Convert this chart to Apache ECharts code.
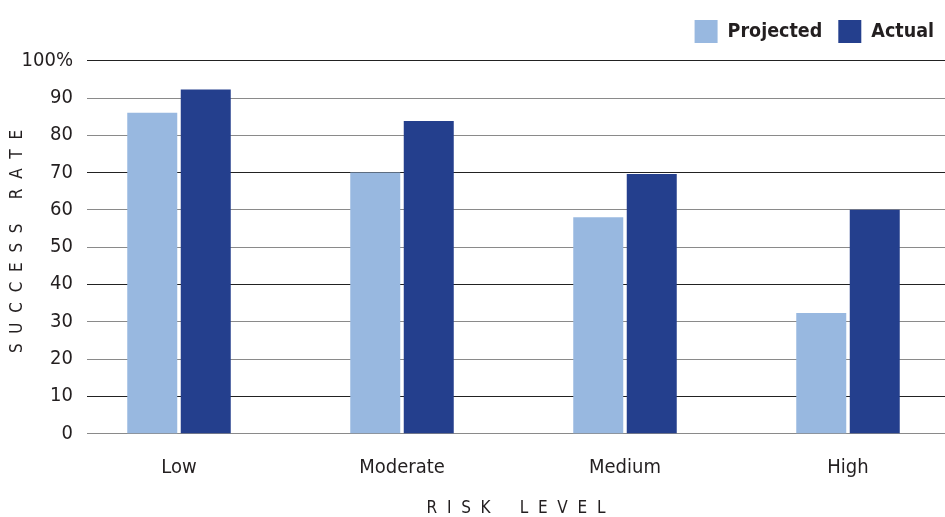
<!DOCTYPE html>
<html>
<head>
<meta charset="utf-8">
<script src="https://cdn.jsdelivr.net/npm/echarts@6/dist/echarts.min.js"></script>
<style>
  html, body { margin: 0; padding: 0; background: #fff; }
  #chart { width: 945px; height: 517px; }
</style>
</head>
<body>
<div id="chart"></div>
<script>
const categories = ['Low', 'Moderate', 'Medium', 'High'];
const projected = [86, 70, 58, 32.3];
const actual = [92.3, 83.8, 69.6, 60];
const seriesNames = ['Projected', 'Actual'];
const yMin = 0, yMax = 100, yStep = 10;
const yAxisTitle = 'S  U  C  C  E  S  S     R  A  T  E';
const xAxisTitle = 'R  I  S  K      L  E  V  E  L';

const FONT = '"DejaVu Sans Condensed", "Liberation Sans", sans-serif';
const TXT = '#231f20';

const chart = echarts.init(document.getElementById('chart'), null, { renderer: 'canvas' });
chart.setOption({
  animation: false,
  backgroundColor: '#ffffff',
  legend: {
    right: 6, top: 15,
    itemWidth: 23, itemHeight: 23, itemGap: 16,
    icon: 'rect',
    data: seriesNames,
    textStyle: { fontFamily: FONT, fontSize: 19.5, fontWeight: 'bold', color: TXT, padding: [0, 0, 0, 5] }
  },
  grid: [
    { left: 67.5, width: 892, top: 60.7, bottom: 83.7, containLabel: false, outerBoundsMode: 'none' },
    { left: 87, right: 0, top: 60.7, bottom: 83.7, containLabel: false, outerBoundsMode: 'none' }
  ],
  xAxis: [
    {
      gridIndex: 0, type: 'category', data: categories,
      axisLine: { show: false }, axisTick: { show: false },
      axisLabel: { fontFamily: FONT, fontSize: 20, color: TXT, margin: 24 }
    },
    {
      gridIndex: 1, type: 'value', min: 0, max: 1,
      axisLine: { show: false }, axisTick: { show: false }, axisLabel: { show: false },
      splitLine: { show: false },
      name: xAxisTitle, nameLocation: 'middle', nameGap: 67, nameMoveOverlap: false,
      nameTextStyle: { fontFamily: FONT, fontSize: 17, color: TXT }
    }
  ],
  yAxis: [
    {
      gridIndex: 0, type: 'value', min: yMin, max: yMax, interval: yStep, show: false,
      splitLine: { show: false }
    },
    {
      gridIndex: 1, type: 'value', min: yMin, max: yMax, interval: yStep,
      axisLine: { show: false }, axisTick: { show: false },
      axisLabel: {
        fontFamily: FONT, fontSize: 20, color: TXT, margin: 14,
        formatter: v => v === yMax ? v + '%' : String(v)
      },
      splitLine: { show: true, lineStyle: { color: ['#8a8a8a', '#222222', '#8a8a8a'], width: 1.2 } },
      name: yAxisTitle, nameLocation: 'middle', nameGap: 61, nameRotate: 90, nameMoveOverlap: false,
      nameTextStyle: { fontFamily: FONT, fontSize: 17, color: TXT, padding: [0, 0, 0, 11] }
    }
  ],
  series: [
    {
      name: seriesNames[0], type: 'bar', xAxisIndex: 0, yAxisIndex: 0,
      data: projected, barWidth: 50, barGap: '7%',
      itemStyle: { color: '#98b8e0' }, z: 3
    },
    {
      name: seriesNames[1], type: 'bar', xAxisIndex: 0, yAxisIndex: 0,
      data: actual, barWidth: 50, barGap: '7%',
      itemStyle: { color: '#243f8d' }, z: 3
    }
  ]
});
</script>
</body>
</html>
